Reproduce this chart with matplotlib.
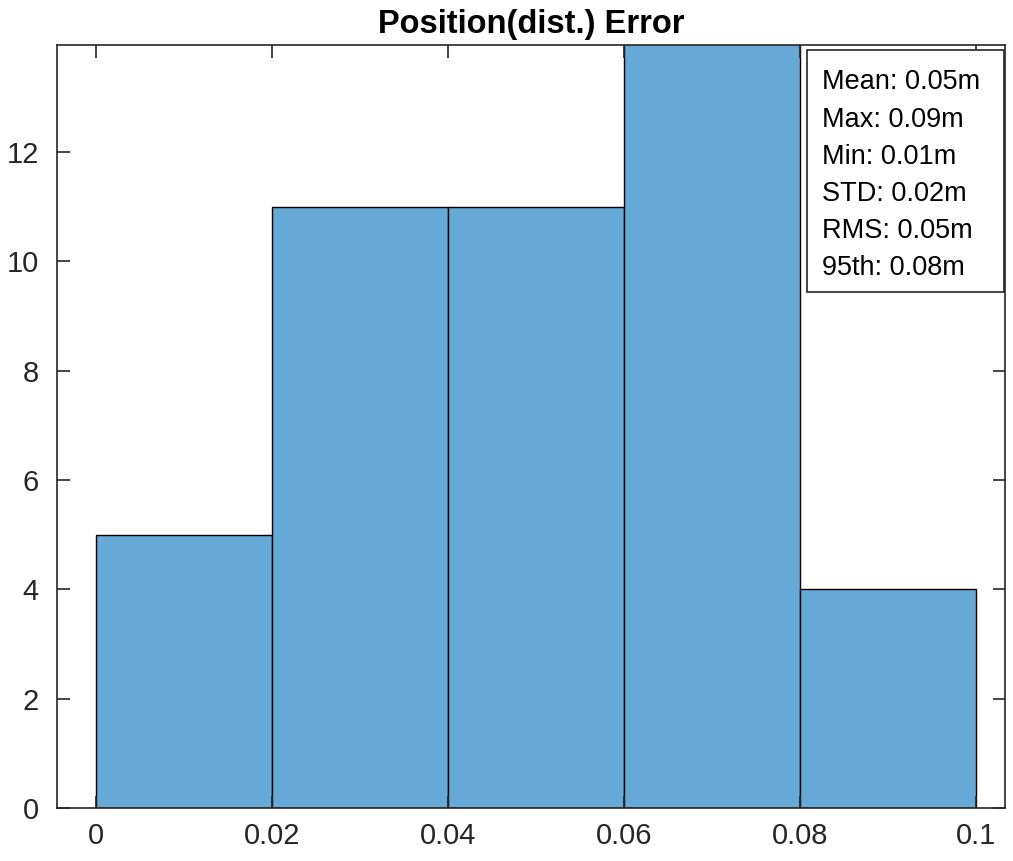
import matplotlib.pyplot as plt
from matplotlib.patches import Rectangle

# histogram data (bin edges and counts)
bin_edges = [0.0, 0.02, 0.04, 0.06, 0.08, 0.1]
counts = [5, 11, 11, 14, 4]
stats_lines = ["Mean: 0.05m", "Max: 0.09m", "Min: 0.01m",
               "STD: 0.02m", "RMS: 0.05m", "95th: 0.08m"]
x_ticks = [0, 0.02, 0.04, 0.06, 0.08, 0.1]
x_ticklabels = ["0", "0.02", "0.04", "0.06", "0.08", "0.1"]
y_ticks = [0, 2, 4, 6, 8, 10, 12]

plt.rcParams['font.family'] = ['Liberation Sans', 'DejaVu Sans']
axis_col = '#262626'

fig = plt.figure(figsize=(10.13, 8.61), dpi=100)
ax = fig.add_axes([0.0563, 0.0616, 0.9357, 0.8861])

widths = [bin_edges[i + 1] - bin_edges[i] for i in range(len(counts))]
ax.bar(bin_edges[:-1], counts, width=widths, align='edge',
       color='#66a9d7', edgecolor='black', linewidth=1.0)

ax.set_xlim(-0.0044, 0.1033)
ax.set_ylim(0, 13.96)
ax.set_xticks(x_ticks)
ax.set_xticklabels(x_ticklabels)
ax.set_yticks(y_ticks)

for s in ax.spines.values():
    s.set_color(axis_col)
    s.set_linewidth(1.2)
ax.tick_params(direction='in', length=9, width=1.2, color=axis_col,
               labelcolor=axis_col, labelsize=21, top=True, right=True)
ax.tick_params(axis='y', pad=13)
ax.tick_params(axis='x', pad=10)

ax.set_title("Position(dist.) Error", fontsize=23.5, fontweight='bold', pad=8.6)

# stats box
ax.add_patch(Rectangle((0.791, 0.676), 0.208, 0.3174, transform=ax.transAxes,
                       facecolor='white', edgecolor=axis_col, linewidth=1.2,
                       zorder=5))
ax.text(0.807, 0.968, "\n".join(stats_lines), transform=ax.transAxes,
        ha='left', va='top', fontsize=19.5, linespacing=1.56, color='black',
        zorder=6)

fig.savefig("out.png", dpi=100)
